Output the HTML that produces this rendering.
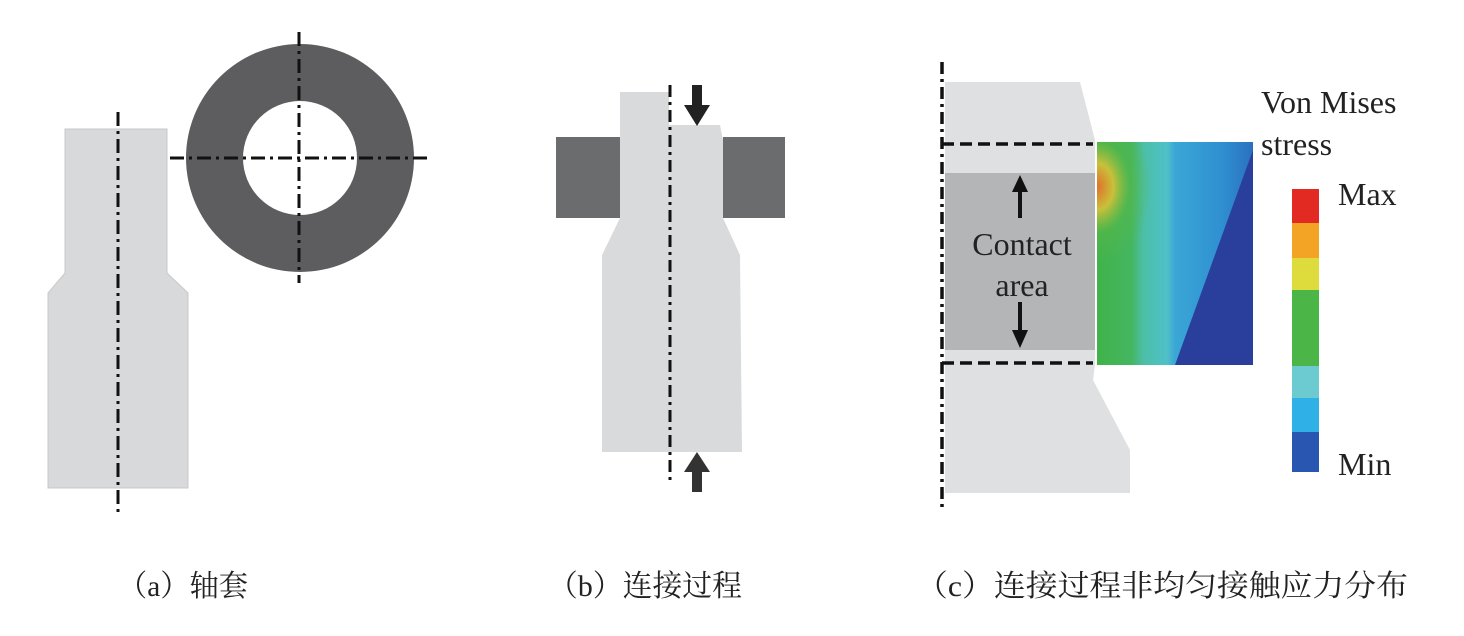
<!DOCTYPE html>
<html><head><meta charset="utf-8"><style>
html,body{margin:0;padding:0;background:#fff;}
svg{display:block;}
</style></head><body>
<svg width="1464" height="636" viewBox="0 0 1464 636" xmlns="http://www.w3.org/2000/svg">
<defs>
<linearGradient id="fe" x1="0" y1="0" x2="1" y2="0">
<stop offset="0" stop-color="#40b24a"/><stop offset="0.22" stop-color="#45b660"/><stop offset="0.3" stop-color="#4cbfa8"/><stop offset="0.45" stop-color="#4fc0c8"/><stop offset="0.5" stop-color="#3aa6d6"/><stop offset="0.8" stop-color="#2f90d0"/><stop offset="1" stop-color="#2a70c0"/>
</linearGradient>
<radialGradient id="hot" cx="0" cy="0.2" r="0.35">
<stop offset="0" stop-color="#e0702a"/><stop offset="0.3" stop-color="#c9c03a"/><stop offset="0.6" stop-color="#55b848" stop-opacity="0.6"/><stop offset="1" stop-color="#55b848" stop-opacity="0"/>
</radialGradient>
</defs>

<!-- Panel a -->
<polygon points="65,129 167,129 167,273 188,293 188,488 48,488 48,293 65,273" fill="#d7d9db" stroke="#c8c8c8"/>
<circle cx="300" cy="158" r="114" fill="#5d5d5f"/>
<circle cx="300" cy="158" r="57" fill="#fff"/>
<g stroke="#111" stroke-width="3" stroke-dasharray="14,5,3,5" fill="none">
<line x1="118" y1="112" x2="118" y2="512"/>
<line x1="170" y1="158" x2="427" y2="158"/>
<line x1="299" y1="32" x2="299" y2="283"/>
</g>

<!-- Panel b -->
<rect x="556" y="137" width="66" height="81" fill="#6b6c6e"/>
<rect x="723" y="137" width="62" height="81" fill="#6b6c6e"/>
<polygon points="620,92 669,92 669,125 720,125 723,140 723,218 740,255 742,452 602,452 602,255 620,218" fill="#d8dadc"/>
<line x1="670" y1="85" x2="670" y2="480" stroke="#111" stroke-width="3" stroke-dasharray="12,5,3,5"/>
<polygon points="692,85 702,85 702,105 710,105 697,126 684,105 692,105" fill="#222"/>
<polygon points="692,492 702,492 702,472 710,472 697,452 684,472 692,472" fill="#333"/>

<!-- Panel c -->
<polygon points="945,82 1080,82 1095,140 1095,365 1093,380 1130,450 1130,493 945,493" fill="#dfe0e2"/>
<rect x="945" y="173" width="150" height="177" fill="#b4b5b7"/>
<rect x="1097" y="142" width="156" height="223" fill="url(#fe)"/>
<polygon points="1253,150 1253,365 1175,365" fill="#2a3f9c"/>
<rect x="1097" y="142" width="156" height="223" fill="url(#hot)"/>
<line x1="942" y1="62" x2="942" y2="510" stroke="#111" stroke-width="3.5" stroke-dasharray="12,5,3,5"/>
<g stroke="#111" stroke-width="3.5" stroke-dasharray="12,6">
<line x1="942" y1="144" x2="1093" y2="144"/>
<line x1="942" y1="363" x2="1093" y2="363"/>
</g>
<polygon points="1018,218 1022,218 1022,192 1028,192 1020,175 1012,192 1018,192" fill="#111"/>
<polygon points="1018,302 1022,302 1022,330 1028,330 1020,348 1012,330 1018,330" fill="#111"/>
<g font-family="Liberation Serif, serif" font-size="32" fill="#222">
<text x="1022" y="255" text-anchor="middle">Contact</text>
<text x="1022" y="296" text-anchor="middle">area</text>
<text x="1261" y="113">Von Mises</text>
<text x="1261" y="155">stress</text>
<text x="1338" y="205">Max</text>
<text x="1338" y="475">Min</text>
</g>
<rect x="1292" y="189" width="27" height="34" fill="#e32a22"/>
<rect x="1292" y="223" width="27" height="35" fill="#f4a424"/>
<rect x="1292" y="258" width="27" height="32" fill="#dedc3c"/>
<rect x="1292" y="290" width="27" height="76" fill="#4bb548"/>
<rect x="1292" y="366" width="27" height="32" fill="#6ccbd0"/>
<rect x="1292" y="398" width="27" height="34" fill="#2fb0e6"/>
<rect x="1292" y="432" width="27" height="40" fill="#2956b0"/>

<!-- Captions -->
<g font-family="Liberation Serif, 'Noto Serif CJK SC', serif" font-size="30" fill="#222">
<text x="118" y="596" textLength="130" lengthAdjust="spacingAndGlyphs">（a）轴套</text>
<text x="548" y="596" textLength="194" lengthAdjust="spacingAndGlyphs">（b）连接过程</text>
<text x="916" y="596" textLength="492" lengthAdjust="spacingAndGlyphs">（c）连接过程非均匀接触应力分布</text>
</g>
</svg>
</body></html>
